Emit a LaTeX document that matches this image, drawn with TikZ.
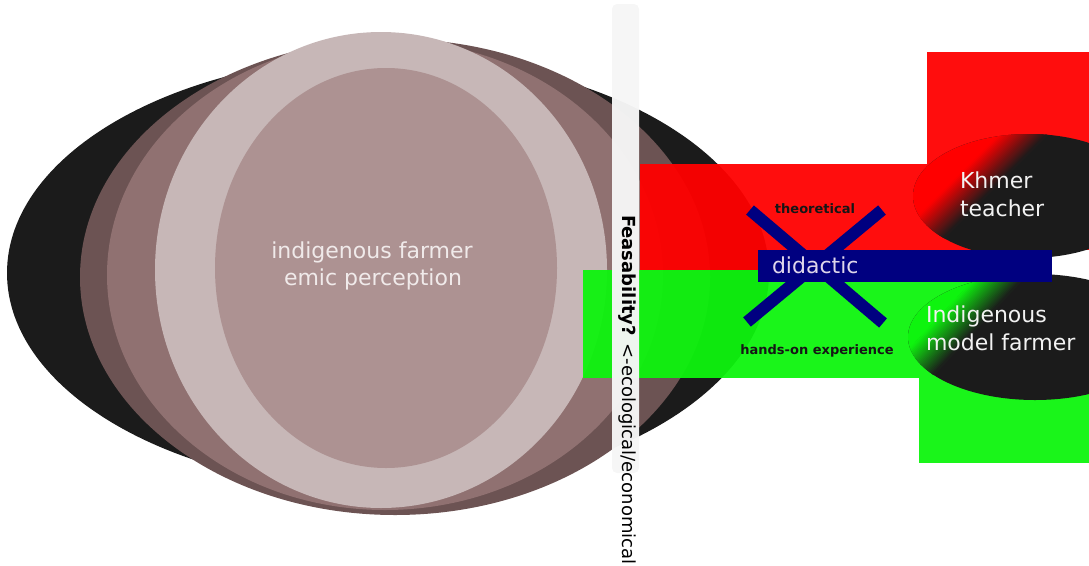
\documentclass[tikz,border=0pt]{standalone}
\usepackage{fontspec}
\setmainfont{DejaVu Sans}

\definecolor{inkblack}{RGB}{27,27,27}
\definecolor{browndark}{RGB}{108,83,83}
\definecolor{brownmid}{RGB}{144,113,113}
\definecolor{ringpale}{RGB}{199,183,183}
\definecolor{coremauve}{RGB}{173,146,146}
\definecolor{redfill}{RGB}{255,0,0}
\definecolor{greenfill}{RGB}{14,244,14}
\definecolor{navyfill}{RGB}{0,0,128}
\definecolor{barwhite}{RGB}{246,246,246}
\definecolor{coretext}{RGB}{240,234,234}
\definecolor{lighttext}{RGB}{242,242,242}
\definecolor{lavtext}{RGB}{222,214,234}
\definecolor{darktext}{RGB}{22,22,22}

\newcommand\fsz[1]{\fontsize{#1}{#1}\selectfont}

% Ellipse filled with a straight colour-to-black gradient.
% #1,#2 centre; #3,#4 radii; #5 colour; #6 gradient direction (y axis downwards);
% #7 offset where the pure colour ends; #8 offset where the black begins.
\newcommand\gradellipse[8]{%
  \begin{scope}
    \clip (#1,#2) ellipse [x radius=#3, y radius=#4];
    \fill[inkblack] (#1-#3-2,#2-#4-2) rectangle (#1+#3+2,#2+#4+2);
    \pgfmathsetmacro\gbC{cos(#6)}
    \pgfmathsetmacro\gbS{sin(#6)}
    \fill[#5] ({#1-300*\gbC+200*\gbS},{#2-300*\gbS-200*\gbC})
      -- ({#1+(#7)*\gbC+200*\gbS},{#2+(#7)*\gbS-200*\gbC})
      -- ({#1+(#7)*\gbC-200*\gbS},{#2+(#7)*\gbS+200*\gbC})
      -- ({#1-300*\gbC-200*\gbS},{#2-300*\gbS+200*\gbC}) -- cycle;
    \foreach \k in {0,...,23}{
      \pgfmathsetmacro\gbA{(#7)+((#8)-(#7))*\k/24-0.4}
      \pgfmathsetmacro\gbB{(#7)+((#8)-(#7))*(\k+1)/24+0.4}
      \pgfmathsetmacro\gbMix{100-(\k+0.5)*100/24}
      \fill[#5!\gbMix!inkblack]
        ({#1+(\gbA)*\gbC+200*\gbS},{#2+(\gbA)*\gbS-200*\gbC})
        -- ({#1+(\gbB)*\gbC+200*\gbS},{#2+(\gbB)*\gbS-200*\gbC})
        -- ({#1+(\gbB)*\gbC-200*\gbS},{#2+(\gbB)*\gbS+200*\gbC})
        -- ({#1+(\gbA)*\gbC-200*\gbS},{#2+(\gbA)*\gbS+200*\gbC}) -- cycle;
    }
  \end{scope}}

\begin{document}
\begin{tikzpicture}[x=1pt,y=-1pt,
  txt/.style={inner sep=0pt, outer sep=0pt},
  bigtxt/.style={txt, font=\fsz{22}},
  smallbold/.style={txt, font=\fsz{13}\bfseries, text=darktext},
  band/.style={fill opacity=0.95},
  crossbar/.style={draw=navyfill, line width=12pt, line cap=butt}]

\path[use as bounding box] (0,0) rectangle (1089,565);

% nested perception ellipses
\fill[inkblack]  (388,273) ellipse [x radius=381, y radius=217];
\fill[browndark] (395,277) ellipse [x radius=315, y radius=238];
\fill[brownmid]  (385,275) ellipse [x radius=278, y radius=235];
\fill[ringpale]  (381,270) ellipse [x radius=226, y radius=238];
\fill[coremauve] (386,268) ellipse [x radius=171, y radius=200];

\node[bigtxt, anchor=base, text=coretext] (perc1) at (372,258) {indigenous farmer};
\node[bigtxt, anchor=base, text=coretext] (perc2) at (373,285) {emic perception};

% coloured bands
\fill[greenfill, band] (583,270) rectangle (919,378);
\fill[greenfill, band] (919,282) rectangle (1089,463);
\fill[redfill, band] (640,164) rectangle (927,270);
\fill[redfill, band] (927,52) rectangle (1089,250);

% feasibility bar
\fill[barwhite, rounded corners=5pt, fill opacity=0.97] (612,4) rectangle (639,473);
\node[txt, rotate=-90, anchor=base west, font=\fsz{18}, text=black] (feas) at (622,215)
  {\textbf{Feasability?} <-ecological/economical};

% actors
\gradellipse{1029}{196}{116}{62}{redfill}{45}{-64}{-30}
\gradellipse{1035}{337}{127}{63}{greenfill}{43}{-84}{-48}

% crossed-out learning modes
\coordinate (xa1) at (750,210);
\coordinate (xa2) at (883,323);
\coordinate (xb1) at (882,210);
\coordinate (xb2) at (747,322);
\draw[crossbar] (xa1) -- (xa2);
\draw[crossbar] (xb1) -- (xb2);

\fill[navyfill] (758,250) rectangle (1052,282);
\node[bigtxt, anchor=base west, text=lavtext] (did) at (772,273) {didactic};

\node[smallbold, anchor=base] (theo) at (815,213) {theoretical};
\node[smallbold, anchor=base] (hands) at (817,354) {hands-on experience};

\node[bigtxt, anchor=base west, text=lighttext] (kh1) at (960,188) {Khmer};
\node[bigtxt, anchor=base west, text=lighttext] (kh2) at (960,216) {teacher};
\node[bigtxt, anchor=base west, text=lighttext] (in1) at (926,322) {Indigenous};
\node[bigtxt, anchor=base west, text=lighttext] (in2) at (926,350) {model farmer};

\end{tikzpicture}
\end{document}
